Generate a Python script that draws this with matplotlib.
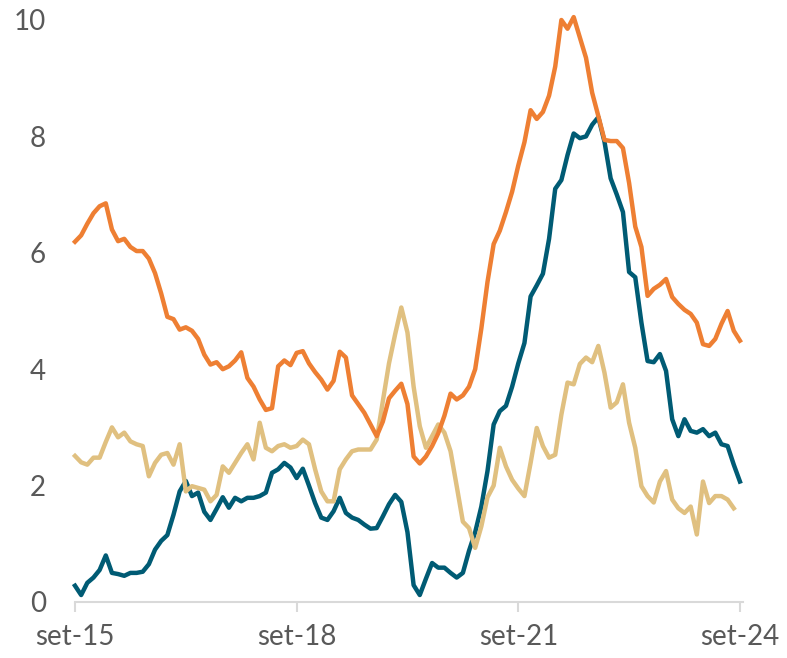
import numpy as np
import matplotlib
matplotlib.use("Agg")
import matplotlib.pyplot as plt

# monthly series, set-15 .. set-24
orange = [6.19, 6.30, 6.50, 6.68, 6.80, 6.85, 6.40, 6.20, 6.24, 6.10,
          6.03, 6.03, 5.90, 5.65, 5.30, 4.90, 4.86, 4.68, 4.72, 4.66,
          4.52, 4.25, 4.08, 4.12, 4.00, 4.05, 4.15, 4.29, 3.85, 3.70,
          3.48, 3.30, 3.33, 4.05, 4.15, 4.07, 4.28, 4.31, 4.10, 3.95,
          3.82, 3.65, 3.80, 4.30, 4.20, 3.55, 3.40, 3.25, 3.05, 2.85,
          3.10, 3.50, 3.63, 3.75, 3.40, 2.50, 2.38, 2.50, 2.68, 2.90,
          3.20, 3.58, 3.48, 3.55, 3.70, 4.00, 4.70, 5.50, 6.15, 6.38,
          6.70, 7.05, 7.50, 7.90, 8.45, 8.30, 8.42, 8.70, 9.20, 10.00,
          9.85, 10.05, 9.70, 9.35, 8.75, 8.35, 7.94, 7.92, 7.92, 7.80,
          7.20, 6.45, 6.10, 5.26, 5.38, 5.45, 5.55, 5.24, 5.12, 5.02,
          4.95, 4.80, 4.43, 4.40, 4.52, 4.78, 5.00, 4.66, 4.49]

teal = [0.28, 0.12, 0.33, 0.42, 0.55, 0.80, 0.50, 0.48, 0.45, 0.50,
        0.50, 0.52, 0.65, 0.90, 1.05, 1.15, 1.50, 1.90, 2.08, 1.82,
        1.88, 1.55, 1.41, 1.60, 1.80, 1.62, 1.79, 1.73, 1.79, 1.79,
        1.82, 1.88, 2.22, 2.28, 2.39, 2.31, 2.13, 2.29, 2.00, 1.70,
        1.45, 1.41, 1.56, 1.79, 1.53, 1.45, 1.41, 1.33, 1.26, 1.27,
        1.47, 1.68, 1.84, 1.72, 1.20, 0.29, 0.12, 0.40, 0.67, 0.59,
        0.59, 0.50, 0.42, 0.50, 0.88, 1.20, 1.64, 2.25, 3.05, 3.28,
        3.37, 3.70, 4.10, 4.45, 5.25, 5.44, 5.64, 6.24, 7.10, 7.25,
        7.68, 8.05, 7.97, 8.00, 8.20, 8.33, 7.91, 7.28, 7.00, 6.70,
        5.67, 5.58, 4.80, 4.14, 4.12, 4.26, 3.97, 3.14, 2.85, 3.14,
        2.94, 2.91, 2.97, 2.85, 2.91, 2.71, 2.68, 2.36, 2.07]

tan = [2.51, 2.40, 2.36, 2.48, 2.48, 2.75, 3.00, 2.83, 2.91, 2.76,
       2.71, 2.68, 2.16, 2.39, 2.53, 2.56, 2.36, 2.71, 1.90, 1.99,
       1.96, 1.93, 1.73, 1.84, 2.33, 2.22, 2.39, 2.56, 2.71, 2.45,
       3.08, 2.65, 2.59, 2.68, 2.71, 2.65, 2.68, 2.79, 2.71, 2.28,
       1.90, 1.73, 1.73, 2.28, 2.45, 2.59, 2.62, 2.62, 2.62, 2.79,
       3.45, 4.10, 4.60, 5.06, 4.63, 3.70, 3.02, 2.65, 2.85, 3.05,
       2.91, 2.59, 1.99, 1.38, 1.27, 0.93, 1.30, 1.80, 2.00, 2.65,
       2.33, 2.10, 1.95, 1.82, 2.39, 2.99, 2.68, 2.48, 2.53, 3.22,
       3.77, 3.74, 4.09, 4.20, 4.12, 4.40, 3.94, 3.34, 3.43, 3.74,
       3.08, 2.65, 1.99, 1.82, 1.71, 2.07, 2.25, 1.76, 1.61, 1.53,
       1.64, 1.16, 2.07, 1.70, 1.82, 1.82, 1.76, 1.61]

tick_pos = [0, 36, 72, 108]
tick_labels = ['set-15', 'set-18', 'set-21', 'set-24']

plt.rcParams['font.family'] = ['Lato', 'DejaVu Sans']

fig = plt.figure(figsize=(7.87, 6.58), dpi=100)
ax = fig.add_axes([75/787, 56/658, 668/787, 582/658])

ax.plot(np.arange(len(teal)), teal, color='#005B74', lw=3.2, solid_joinstyle='round', clip_on=False)
ax.plot(np.arange(len(tan)), tan, color='#E0C080', lw=3.2, solid_joinstyle='round', clip_on=False)
ax.plot(np.arange(len(orange)), orange, color='#EE7F33', lw=3.2, solid_joinstyle='round', clip_on=False)

ax.set_xlim(0, 108.5)
ax.set_ylim(0, 10)
ax.set_yticks([0, 2, 4, 6, 8, 10])
ax.set_xticks(tick_pos)
ax.set_xticklabels(tick_labels)

for s in ['left', 'right', 'top']:
    ax.spines[s].set_visible(False)
ax.spines['bottom'].set_color('#D9D9D9')
ax.spines['bottom'].set_linewidth(1.5)

ax.tick_params(axis='y', length=0, pad=21, labelsize=20, labelcolor='#595959')
ax.tick_params(axis='x', length=7, width=1.5, color='#D9D9D9', pad=9,
               labelsize=20, labelcolor='#595959')

fig.savefig('out.png', dpi=100)
